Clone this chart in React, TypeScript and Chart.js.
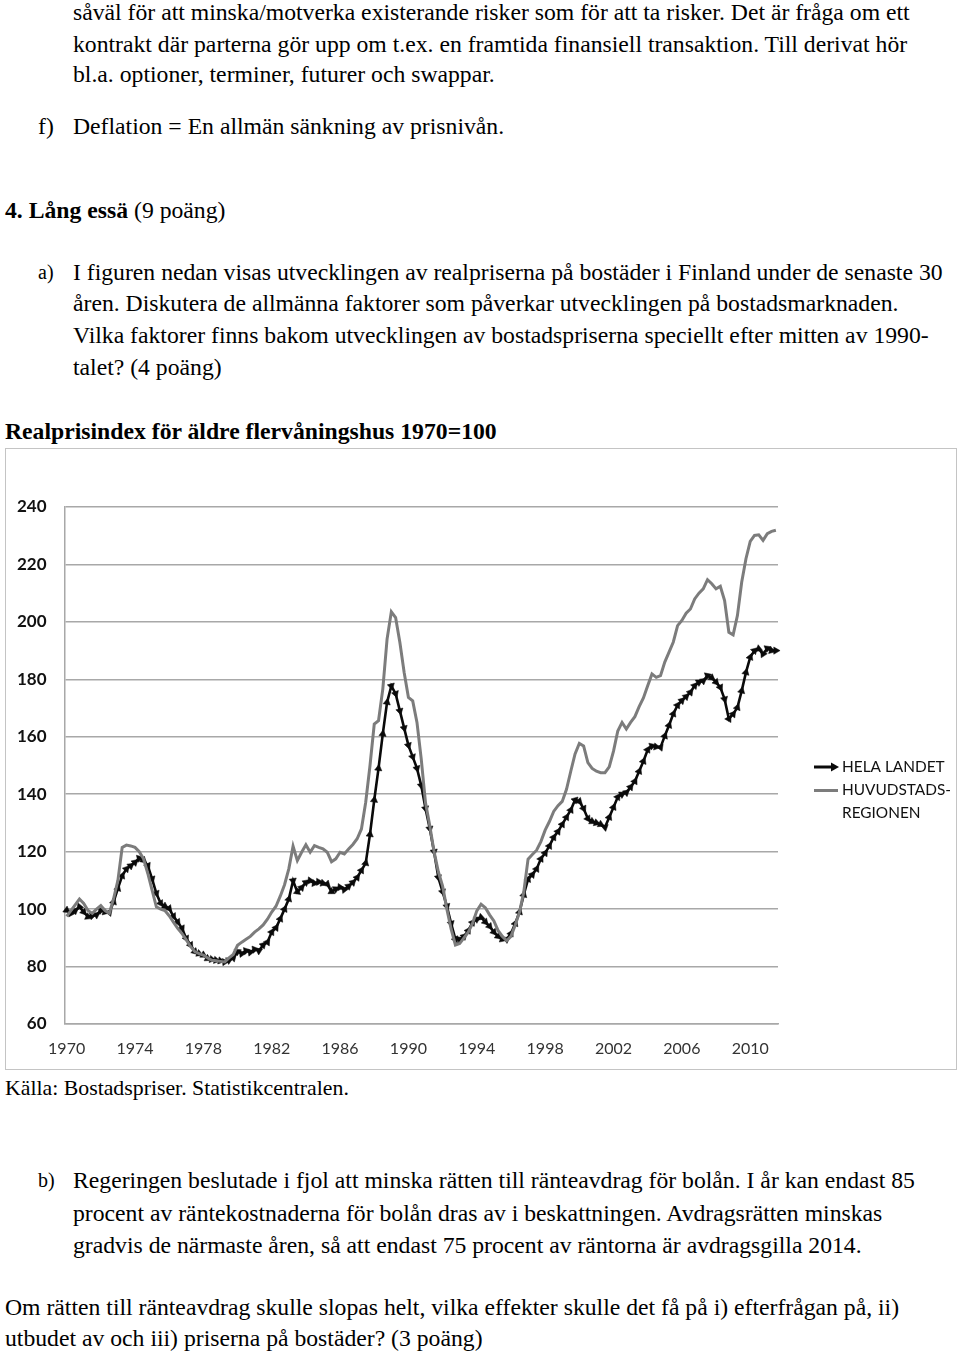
import React, { useEffect, useRef } from 'react';
import { Chart, registerables } from 'chart.js';

Chart.register(...registerables);

// ---- Data (quarterly, 1970Q1 – 2011Q3) ----
const startYear = 1970;
const xTickLabels = ['1970', '1974', '1978', '1982', '1986', '1990', '1994', '1998', '2002', '2006', '2010'];
const yMin = 60;
const yMax = 240;
const yStep = 20;
const seriesNames = ['HELA LANDET', 'HUVUDSTADS-', 'REGIONEN'];

const helaLandet = [
  99.6, 98.5, 99.5, 100.8,
  99, 97.3, 97.7, 98,
  99.6, 99, 98.8, 102.5,
  107.2, 111.6, 114, 115.1,
  116.3, 117.7, 117, 115.1,
  110.5, 105.5, 102, 101,
  100.2, 97.5, 95.5, 93.3,
  89.8, 87.5, 85.2, 84.5,
  84, 82.8, 82.5, 82.2,
  82, 81.6, 82.2, 83,
  85.2, 84.5, 85.5, 85,
  86, 85.5, 87.5, 88.5,
  92, 93.5, 96.6, 100,
  103.5, 109.9, 106, 107.5,
  109.3, 109.9, 109, 109.5,
  109, 108.7, 106.1, 107,
  107.6, 106.8, 108, 109.3,
  111, 113.5, 116, 126,
  138, 149, 161, 172,
  177.7, 175, 169, 163,
  157, 153, 149, 143,
  135, 128, 120, 111,
  106, 101, 95, 89.5,
  89.5, 90.5, 92.5, 95.3,
  96.5, 97.1, 95.5, 94,
  92, 90.5, 89.5, 89.5,
  91.5, 95, 99, 105,
  110.4, 112, 114, 117.5,
  119.5, 122, 125, 127,
  129.5, 132, 134.5, 138,
  137.5, 135, 131.5, 130.5,
  130, 129.5, 128.5, 132,
  135.5, 139, 140, 140.6,
  142.5, 144.5, 148, 151.5,
  155.5, 156.8, 156.5, 156.3,
  160.3, 164, 168, 171,
  172.6, 174, 175.5, 177.8,
  179, 179.5, 181.3, 180.5,
  179, 177.2, 173.1, 166.2,
  167.9, 170.2, 176, 182.4,
  187.7, 190, 190.6, 188.8,
  190.8, 190, 190,
];

const huvudstadsregionen = [
  97.5, 99.5, 101.5, 103.5,
  102, 99.5, 98.5, 100,
  101.2, 99.5, 98.5, 103.7,
  110, 121.5, 122.3, 122,
  121.5, 120, 117.5, 112.4,
  106.6, 100.8, 100, 99.5,
  97.7, 95.5, 93.3, 91.5,
  89.3, 87, 85.2, 84.5,
  84, 83, 82.2, 82,
  81.8, 81.6, 83, 84.2,
  87.4, 88.5, 89.5, 90.5,
  92, 93.1, 94.5, 96.5,
  99, 101, 104.5, 108.5,
  114, 121.9, 116.9, 119.8,
  122.4, 119.8, 122.1, 121.5,
  121, 119.8, 116.5, 117.5,
  119.8, 119.2, 120.9, 122.5,
  124.5, 127.9, 137.2, 149.9,
  164.4, 165.6, 176.6, 194,
  203.5, 201.5, 192.8, 182.4,
  173.7, 172.5, 165, 152.2,
  137, 129, 120, 113,
  108, 100, 93, 87.5,
  88, 90, 92, 95,
  99.4, 101.7, 100.5, 98,
  95.9, 92.5, 90.5, 89,
  90.5, 94.5, 99, 106,
  117.4, 119, 120.5, 123.5,
  127.5, 130.5, 134, 136,
  137.5, 141.7, 148, 154,
  157.7, 156.8, 151, 149,
  148, 147.5, 147.5, 149.5,
  155, 162, 165, 162.7,
  165, 167, 170.5, 173.5,
  177.8, 181.9, 180.7, 181.3,
  186, 189.5, 193, 198.7,
  200.5, 203, 204.5, 208,
  210, 211.5, 214.7, 213.3,
  211.5, 212.4, 207.4, 196.4,
  195.5, 202.2, 213.8, 222,
  228, 230.1, 230.3, 228.4,
  230.7, 231.5, 231.9,
];

const quarters = helaLandet.map((_, i) => `${startYear + Math.floor(i / 4)}Q${(i % 4) + 1}`);

const BLACK = '#0a0a0a';
const GRAY = '#7c7c7c';
const GRID = '#a8a8a8';
const CHART_FONT = 'Lato, "Open Sans", sans-serif';

const legendPlugin = {
  id: 'customLegend',
  afterDraw(chart: any) {
    const { ctx, chartArea } = chart;
    const x0 = chartArea.right + 36;
    const lineLen = 24;
    const tx = x0 + lineLen + 4;
    const y1 = 318;
    const y2 = 341.5;
    const y3 = 364.5;
    ctx.save();
    ctx.strokeStyle = BLACK;
    ctx.lineWidth = 3;
    ctx.beginPath();
    ctx.moveTo(x0, y1);
    ctx.lineTo(x0 + lineLen - 5, y1);
    ctx.stroke();
    ctx.fillStyle = BLACK;
    ctx.beginPath();
    ctx.moveTo(x0 + lineLen + 1, y1);
    ctx.lineTo(x0 + lineLen - 7, y1 - 4.5);
    ctx.lineTo(x0 + lineLen - 7, y1 + 4.5);
    ctx.closePath();
    ctx.fill();
    ctx.strokeStyle = GRAY;
    ctx.lineWidth = 3;
    ctx.beginPath();
    ctx.moveTo(x0, y2);
    ctx.lineTo(x0 + lineLen, y2);
    ctx.stroke();
    ctx.fillStyle = '#111';
    ctx.font = `15.4px ${CHART_FONT}`;
    ctx.textBaseline = 'middle';
    ctx.textAlign = 'left';
    ctx.fillText(seriesNames[0], tx, y1);
    ctx.fillText(seriesNames[1], tx, y2);
    ctx.fillText(seriesNames[2], tx, y3);
    ctx.restore();
  },
};

function ChartBox() {
  const ref = useRef<HTMLCanvasElement | null>(null);
  useEffect(() => {
    if (!ref.current) return;
    const rotation = (c: any) => {
      if (c.type !== 'data') return 0;
      const chart = c.chart;
      const xs = chart.scales.x;
      const ys = chart.scales.y;
      if (!xs || !ys) return 0;
      const i = c.dataIndex;
      const d = helaLandet;
      const i0 = Math.max(0, i - 1);
      const i1 = Math.min(d.length - 1, i + 1);
      const dx = xs.getPixelForValue(i1) - xs.getPixelForValue(i0);
      const dy = ys.getPixelForValue(d[i1]) - ys.getPixelForValue(d[i0]);
      return (Math.atan2(dx, -dy) * 180) / Math.PI;
    };
    const chart = new Chart(ref.current, {
      type: 'line',
      data: {
        labels: quarters,
        datasets: [
          {
            label: 'HELA LANDET',
            data: helaLandet,
            borderColor: BLACK,
            backgroundColor: BLACK,
            borderWidth: 2.6,
            pointStyle: 'triangle',
            pointRadius: 4.2,
            pointBorderWidth: 0.5,
            pointBorderColor: BLACK,
            pointBackgroundColor: BLACK,
            pointRotation: rotation,
            tension: 0,
            order: 2,
          } as any,
          {
            label: 'HUVUDSTADS-REGIONEN',
            data: huvudstadsregionen,
            borderColor: GRAY,
            backgroundColor: GRAY,
            borderWidth: 3,
            pointRadius: 0,
            tension: 0,
            order: 1,
          },
        ],
      },
      options: {
        responsive: false,
        animation: false,
        layout: { padding: { top: 58, right: 178, left: 0, bottom: 0 } },
        plugins: {
          legend: { display: false },
          tooltip: { enabled: false },
          title: { display: false },
        },
        scales: {
          x: {
            type: 'category',
            offset: true,
            grid: { display: false, drawTicks: false },
            border: { display: true, color: GRID, width: 1.5 },
            ticks: {
              autoSkip: false,
              maxRotation: 0,
              minRotation: 0,
              padding: 15,
              color: '#333',
              font: { family: CHART_FONT, size: 16 },
              callback: (_v: any, index: number) =>
                index % 16 === 0 ? xTickLabels[index / 16] ?? null : null,
            },
            afterFit: (s: any) => {
              s.height = 45;
            },
          },
          y: {
            min: yMin,
            max: yMax,
            grid: { color: GRID, lineWidth: 1.5, drawTicks: false },
            border: { display: true, color: GRID, width: 1.5 },
            ticks: {
              stepSize: yStep,
              padding: 18,
              color: '#111',
              font: { family: CHART_FONT, size: 17, weight: 'bold' },
            },
            afterFit: (s: any) => {
              s.width = 58.5;
            },
          },
        },
      },
      plugins: [legendPlugin],
    });
    return () => chart.destroy();
  }, []);
  return <canvas ref={ref} width={950} height={620} style={{ display: 'block', width: 950, height: 620 }} />;
}

type LineProps = { c: number; left: number; children: React.ReactNode; size?: number; bold?: boolean };

function Line({ c, left, children, size = 23.7, bold = false }: LineProps) {
  return (
    <div
      style={{
        position: 'absolute',
        top: c - 15.5,
        left,
        height: 31,
        lineHeight: '31px',
        fontSize: size,
        fontWeight: bold ? 'bold' : 'normal',
        whiteSpace: 'nowrap',
      }}
    >
      {children}
    </div>
  );
}

export default function App() {
  return (
    <div
      style={{
        position: 'absolute',
        left: 0,
        top: 0,
        width: 960,
        height: 1355,
        background: '#fff',
        color: '#000',
        fontFamily: '"Liberation Serif", "Times New Roman", serif',
        overflow: 'hidden',
      }}
    >
      <Line c={12} left={73}>såväl för att minska/motverka existerande risker som för att ta risker. Det är fråga om ett</Line>
      <Line c={44} left={73}>kontrakt där parterna gör upp om t.ex. en framtida finansiell transaktion. Till derivat hör</Line>
      <Line c={74} left={73}>bl.a. optioner, terminer, futurer och swappar.</Line>
      <Line c={126} left={38}>f)</Line>
      <Line c={126} left={73}>Deflation = En allmän sänkning av prisnivån.</Line>
      <Line c={210} left={5}>
        <b>4. Lång essä</b> (9 poäng)
      </Line>
      <Line c={272} left={38} size={20}>a)</Line>
      <Line c={272} left={73}>I figuren nedan visas utvecklingen av realpriserna på bostäder i Finland under de senaste 30</Line>
      <Line c={303} left={73}>åren. Diskutera de allmänna faktorer som påverkar utvecklingen på bostadsmarknaden.</Line>
      <Line c={335} left={73}>Vilka faktorer finns bakom utvecklingen av bostadspriserna speciellt efter mitten av 1990-</Line>
      <Line c={367} left={73}>talet? (4 poäng)</Line>
      <Line c={431} left={5} bold>Realprisindex för äldre flervåningshus 1970=100</Line>

      <div
        style={{
          position: 'absolute',
          left: 5,
          top: 448,
          width: 952,
          height: 622,
          border: '1px solid #c4c4c4',
          boxSizing: 'border-box',
        }}
      >
        <ChartBox />
      </div>

      <Line c={1088} left={5} size={21.8}>Källa: Bostadspriser. Statistikcentralen.</Line>
      <Line c={1180} left={38} size={20}>b)</Line>
      <Line c={1180} left={73}>Regeringen beslutade i fjol att minska rätten till ränteavdrag för bolån. I år kan endast 85</Line>
      <Line c={1213} left={73}>procent av räntekostnaderna för bolån dras av i beskattningen. Avdragsrätten minskas</Line>
      <Line c={1245} left={73}>gradvis de närmaste åren, så att endast 75 procent av räntorna är avdragsgilla 2014.</Line>
      <Line c={1307} left={5}>Om rätten till ränteavdrag skulle slopas helt, vilka effekter skulle det få på i) efterfrågan på, ii)</Line>
      <Line c={1338} left={5}>utbudet av och iii) priserna på bostäder? (3 poäng)</Line>
    </div>
  );
}
